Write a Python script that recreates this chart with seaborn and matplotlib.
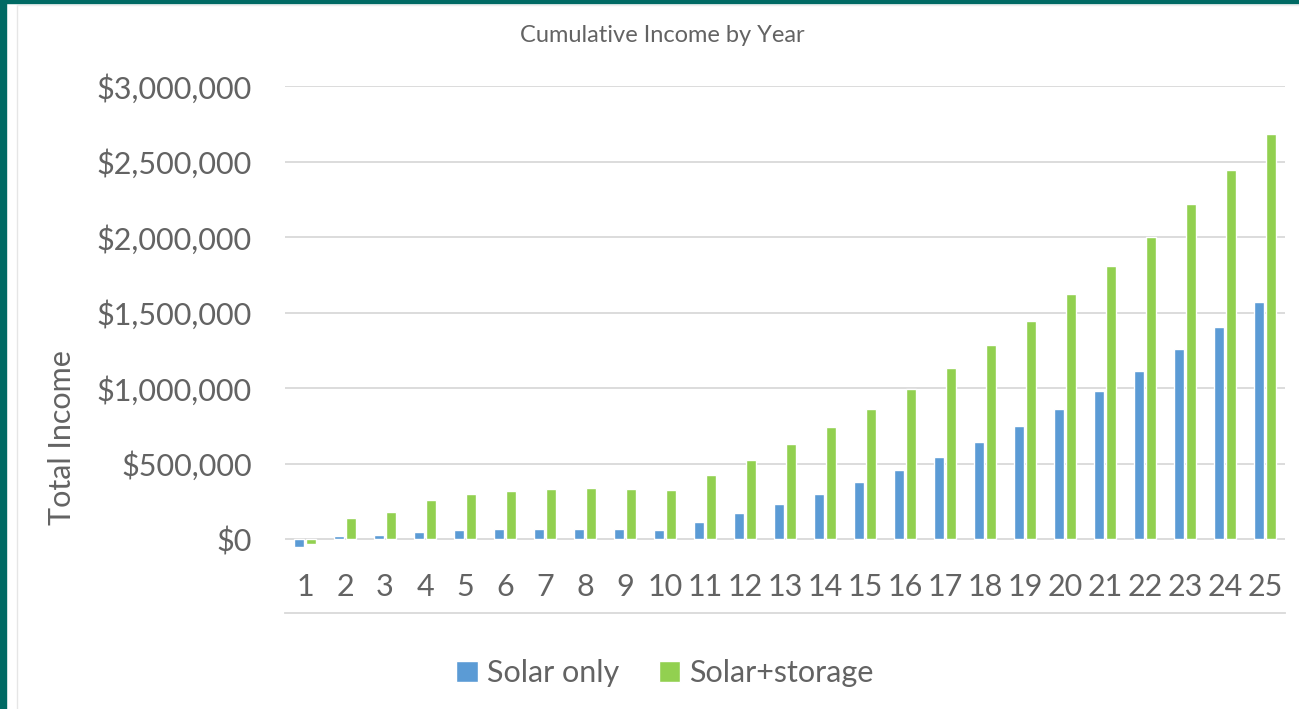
import numpy as np
import pandas as pd
import matplotlib.pyplot as plt
import matplotlib.patches as mpatches
from matplotlib.ticker import FuncFormatter
import seaborn as sns

# values
years = [str(y) for y in range(1, 26)]
solar_only = [-55000, 18000, 24000, 48000, 60000, 64000, 68000, 68000, 64000, 60000,
              113000, 170000, 232000, 298000, 375000, 454000, 543000, 640000, 746000, 858000,
              980000, 1113000, 1256000, 1406000, 1572000]
solar_storage = [-31000, 137000, 179000, 256000, 300000, 316000, 333000, 338000, 331000, 325000,
                 422000, 523000, 627000, 739000, 861000, 993000, 1132000, 1282000, 1446000, 1620000,
                 1805000, 2002000, 2217000, 2442000, 2682000]
series_names = ['Solar only', 'Solar+storage']
y_ticks = [0, 500000, 1000000, 1500000, 2000000, 2500000, 3000000]

df = pd.DataFrame({
    'Year': years * 2,
    'Income': solar_only + solar_storage,
    'Series': [series_names[0]] * 25 + [series_names[1]] * 25,
})

sns.set_style('white')
plt.rcParams['font.family'] = ['Lato', 'DejaVu Sans']
text_color = '#636363'
grid_color = '#D9D9D9'

fig = plt.figure(figsize=(12.99, 7.09), dpi=100)
ax = fig.add_axes([285 / 1299, 1 - 613 / 709, 1000 / 1299, 527 / 709])

sns.barplot(data=df, x='Year', y='Income', hue='Series',
            palette=['#5B9BD5', '#92D050'], width=0.56, gap=0.12,
            saturation=1, ax=ax)

ax.set_ylim(-490000, 3000000)
ax.set_xlim(-0.5, 24.5)
ax.set_yticks(y_ticks)
ax.yaxis.set_major_formatter(FuncFormatter(lambda v, p: f'${v:,.0f}'))
for t in y_ticks:
    ax.axhline(t, color=grid_color, lw=1.3, zorder=0)
ax.set_axisbelow(True)

for s in ['top', 'right', 'left']:
    ax.spines[s].set_visible(False)
ax.spines['bottom'].set_color(grid_color)
ax.spines['bottom'].set_linewidth(1.3)

ax.tick_params(axis='y', length=0, pad=24, labelsize=22, labelcolor=text_color)
ax.tick_params(axis='x', length=0, pad=-29, labelsize=22, labelcolor=text_color)
ax.set_xlabel('')
ax.set_ylabel('')

fig.text(62 / 1299, 1 - 438 / 709, 'Total Income', rotation=90, ha='center', va='center',
         fontsize=22, color=text_color)
fig.text(662 / 1299, 1 - 36 / 709, 'Cumulative Income by Year', ha='center', va='center',
         fontsize=17, color=text_color)

handles, labels = ax.get_legend_handles_labels()
ax.get_legend().remove()
fig.legend(handles, labels, loc='center', bbox_to_anchor=(665 / 1299, 1 - 673 / 709),
           ncol=2, frameon=False, fontsize=22, labelcolor=text_color,
           handlelength=0.7, handleheight=0.7, handletextpad=0.3, columnspacing=1.3)

# teal frame of the slide and the thin chart border
fig.patches.append(mpatches.Rectangle((0, 0), 6 / 1299, 1, transform=fig.transFigure,
                                      color='#006A64', zorder=5))
fig.patches.append(mpatches.Rectangle((0, 1 - 3 / 709), 1, 3 / 709, transform=fig.transFigure,
                                      color='#006A64', zorder=5))
fig.lines.append(plt.Line2D([17 / 1299, 17 / 1299], [0, 1 - 5 / 709], transform=fig.transFigure,
                            color='#E6E6E6', lw=1))
fig.lines.append(plt.Line2D([17 / 1299, 1], [1 - 5 / 709, 1 - 5 / 709], transform=fig.transFigure,
                            color='#EEEEEE', lw=1))

fig.savefig('out.png', dpi=100)
